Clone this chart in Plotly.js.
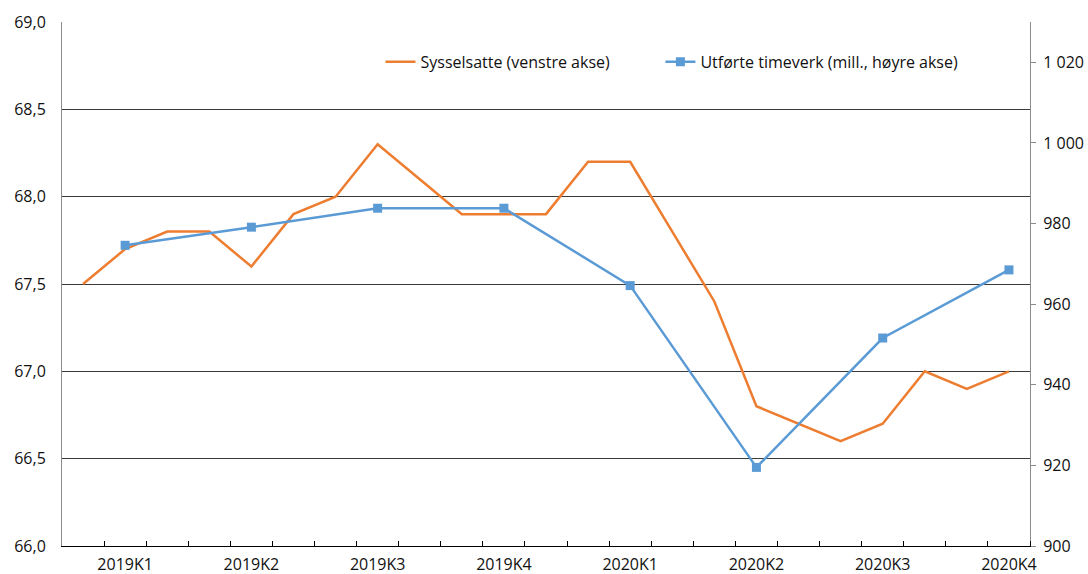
<!DOCTYPE html>
<html>
<head>
<meta charset="utf-8">
<script src="https://cdn.plot.ly/plotly-3.0.1.min.js"></script>
<style>html,body{margin:0;padding:0;background:#fff;}#chart{width:1088px;height:574px;}</style>
</head>
<body>
<div id="chart"></div>
<script>
// Monthly index positions 0..22 (Jan 2019 .. Nov 2020)
var monthIdx = [0,1,2,3,4,5,6,7,8,9,10,11,12,13,14,15,16,17,18,19,20,21,22];
var sysselsatte = [67.5,67.7,67.8,67.8,67.6,67.9,68.0,68.3,68.1,67.9,67.9,67.9,68.2,68.2,67.8,67.4,66.8,66.7,66.6,66.7,67.0,66.9,67.0];
var quarterIdx = [1,4,7,10,13,16,19,22];
var quarterLabels = ["2019K1","2019K2","2019K3","2019K4","2020K1","2020K2","2020K3","2020K4"];
var timeverk = [974.6,979.1,983.8,983.8,964.6,919.5,951.6,968.5];
var monthBoundaries = [0.5,1.5,2.5,3.5,4.5,5.5,6.5,7.5,8.5,9.5,10.5,11.5,12.5,13.5,14.5,15.5,16.5,17.5,18.5,19.5,20.5,21.5,22.5];
var leftTicks = [66,66.5,67,67.5,68,68.5,69];
var rightTicks = [900,920,940,960,980,1000,1020];
var rightTickText = ["900","920","940","960","980","1 000","1 020"];

var font = {family: "Open Sans, sans-serif", size: 16, color: "#111"};

var traces = [
  {
    x: monthIdx, y: sysselsatte, type: "scatter", mode: "lines",
    name: "Sysselsatte (venstre akse)",
    line: {color: "#ED7D31", width: 2.5},
    yaxis: "y", legend: "legend"
  },
  {
    x: quarterIdx, y: timeverk, type: "scatter", mode: "lines+markers",
    name: "Utførte timeverk (mill., høyre akse)",
    line: {color: "#5B9BD5", width: 2.5},
    marker: {symbol: "square", size: 9, color: "#5B9BD5"},
    yaxis: "y2", legend: "legend2"
  }
];

var layout = {
  width: 1088, height: 574,
  margin: {l: 62, r: 58, t: 22, b: 28},
  paper_bgcolor: "#fff", plot_bgcolor: "#fff",
  separators: ", ",
  font: font,
  showlegend: true,
  legend: {
    orientation: "h", x: 0.329, y: 0.924, xanchor: "left", yanchor: "middle",
    font: font, bgcolor: "rgba(0,0,0,0)"
  },
  legend2: {
    orientation: "h", x: 0.6182, y: 0.924, xanchor: "left", yanchor: "middle",
    font: font, bgcolor: "rgba(0,0,0,0)"
  },
  xaxis: {
    type: "linear", range: [-0.5, 22.5],
    tickmode: "array", tickvals: quarterIdx, ticktext: quarterLabels,
    ticks: "", showgrid: false, zeroline: false,
    showline: true, linecolor: "#000", linewidth: 1,
    tickfont: font, ticklabelstandoff: 4,
    minor: {tickmode: "array", tickvals: monthBoundaries, ticks: "inside", ticklen: 5, tickcolor: "#000", showgrid: false}
  },
  yaxis: {
    range: [66, 69], tickmode: "array", tickvals: leftTicks, tickformat: ".1f",
    showgrid: true, gridcolor: "#3a3a3a", gridwidth: 1,
    zeroline: false, showline: true, linecolor: "#8c8c8c", linewidth: 1,
    ticks: "", tickfont: font, ticklabelstandoff: 12
  },
  yaxis2: {
    range: [900, 1030], overlaying: "y", side: "right",
    tickmode: "array", tickvals: rightTicks, ticktext: rightTickText,
    showgrid: false, zeroline: false, showline: true, linecolor: "#8c8c8c", linewidth: 1,
    ticks: "outside", ticklen: 5, tickcolor: "#8c8c8c", tickfont: font, ticklabelstandoff: 4
  }
};

Plotly.newPlot("chart", traces, layout, {displayModeBar: false, staticPlot: true});
</script>
</body>
</html>
